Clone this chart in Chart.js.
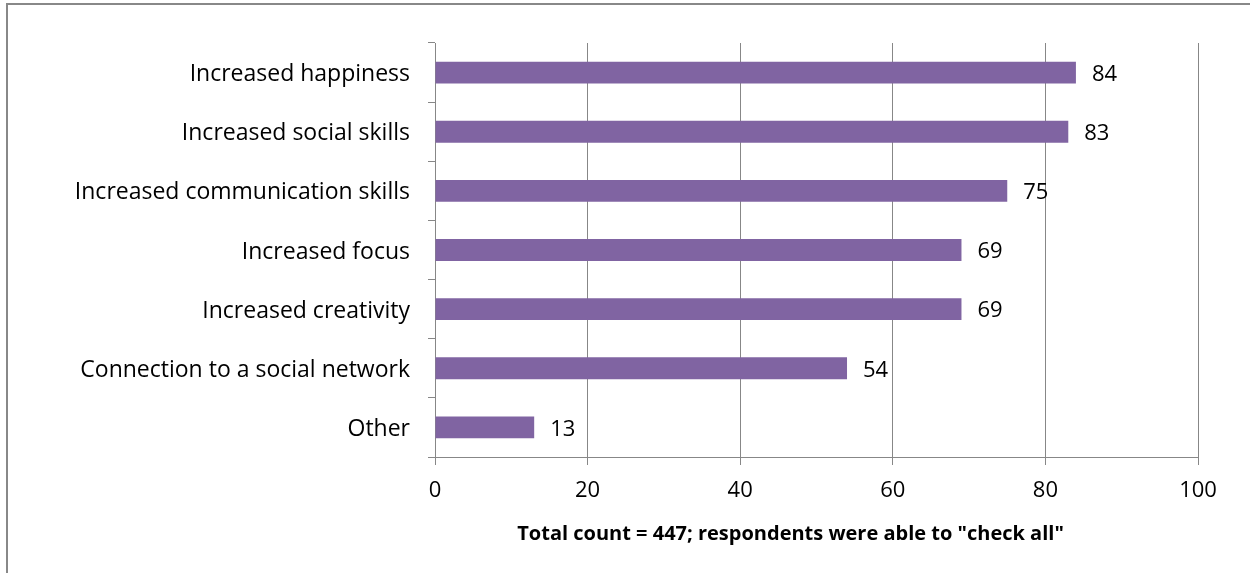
<!DOCTYPE html>
<html>
<head>
  <meta charset="UTF-8" />
  <title>Benefits</title>
  <script src="https://cdn.jsdelivr.net/npm/chart.js@4.4.1/dist/chart.umd.min.js"></script>
  <style>
    body { margin: 0; background: #fff; overflow: hidden; }
    .frame {
      position: absolute; left: 6px; top: 3px; width: 1300px; height: 600px;
      border-left: 2px solid #888; border-top: 2px solid #888;
    }
    .wrap { position: absolute; left: 0; top: 0; width: 1250px; height: 573px; }
  </style>
</head>
<body>
  <div class="frame"></div>
  <div class="wrap"><canvas id="canvas" width="1250" height="573"></canvas></div>
  <script>
    const categories = [
      'Increased happiness',
      'Increased social skills',
      'Increased communication skills',
      'Increased focus',
      'Increased creativity',
      'Connection to a social network',
      'Other'
    ];
    const counts = [84, 83, 75, 69, 69, 54, 13];
    const xTicks = [0, 20, 40, 60, 80, 100];
    const footnote = 'Total count = 447; respondents were able to "check all"';

    const FONT = '"Open Sans", "Liberation Sans", sans-serif';
    const GRID = '#878787';

    // value labels to the right of each bar + the bottom note
    const labelsPlugin = {
      id: 'labels',
      afterDatasetsDraw(chart) {
        const ctx = chart.ctx;
        const meta = chart.getDatasetMeta(0);
        ctx.save();
        ctx.fillStyle = '#000';
        ctx.font = '22px ' + FONT;
        ctx.textBaseline = 'middle';
        ctx.textAlign = 'left';
        meta.data.forEach((bar, i) => {
          ctx.fillText(String(counts[i]), bar.x + 16, bar.y + 2);
        });
        const a = chart.chartArea;
        ctx.font = 'bold 20px ' + FONT;
        ctx.textAlign = 'center';
        ctx.fillText(footnote, a.left + (a.right - a.left) * 0.466, 534);
        ctx.restore();
      }
    };

    new Chart(document.getElementById('canvas'), {
      type: 'bar',
      data: {
        labels: categories,
        datasets: [{
          data: counts,
          backgroundColor: '#8064A2',
          borderWidth: 0,
          barPercentage: 0.37,
          categoryPercentage: 1
        }]
      },
      plugins: [labelsPlugin],
      options: {
        indexAxis: 'y',
        responsive: false,
        animation: false,
        devicePixelRatio: 1,
        layout: { padding: { left: 0, top: 43, right: 52, bottom: 68 } },
        plugins: { legend: { display: false }, tooltip: { enabled: false } },
        scales: {
          x: {
            min: 0, max: 100,
            afterBuildTicks: s => { s.ticks = xTicks.map(v => ({ value: v })); },
            afterFit: s => { s.height = 48; },
            grid: { color: GRID, lineWidth: 1, tickLength: 8 },
            border: { color: GRID, width: 1 },
            ticks: { color: '#000', font: { family: FONT, size: 22 }, padding: 13 }
          },
          y: {
            afterFit: s => { s.width = 435; },
            grid: { drawOnChartArea: false, color: GRID, tickLength: 7, offset: true },
            border: { color: GRID, width: 1 },
            ticks: { color: '#000', font: { family: FONT, size: 23 }, padding: 18, labelOffset: 2 }
          }
        }
      }
    });
  </script>
</body>
</html>
